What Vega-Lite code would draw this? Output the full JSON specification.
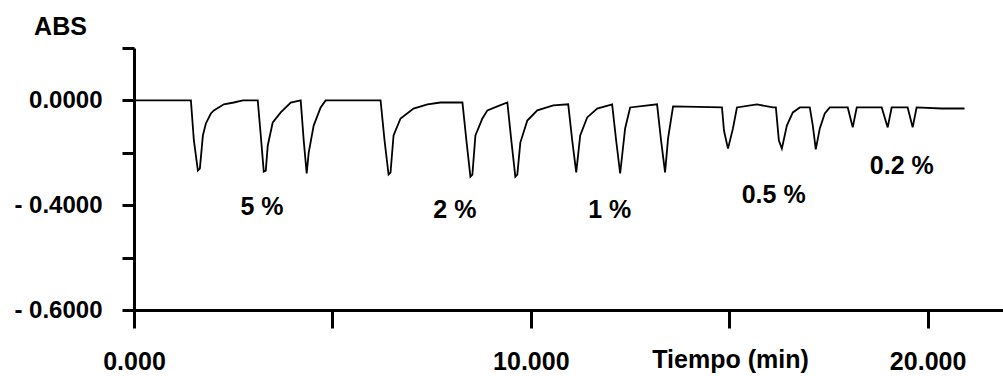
{
  "$schema": "https://vega.github.io/schema/vega-lite/v6.json",
  "width": 869,
  "height": 262,
  "autosize": "none",
  "padding": {"left": 134, "top": 48, "right": 0, "bottom": 66},
  "background": "white",
  "config": {
    "view": {"stroke": null},
    "font": "Liberation Sans",
    "axis": {
      "grid": false,
      "domainColor": "black",
      "domainWidth": 3,
      "tickColor": "black",
      "tickWidth": 3,
      "labelColor": "black",
      "labelFont": "Liberation Sans",
      "labelFontWeight": "bold",
      "titleFont": "Liberation Sans",
      "titleColor": "black",
      "titleFontWeight": "bold"
    }
  },
  "datasets": {
    "trace": [
      {"t": 0, "v": 0},
      {"t": 1.434, "v": 0}, {"t": 1.509, "v": -0.153}, {"t": 1.61, "v": -0.268}, {"t": 1.66, "v": -0.26}, {"t": 1.736, "v": -0.134}, {"t": 1.811, "v": -0.088}, {"t": 1.937, "v": -0.05}, {"t": 2.013, "v": -0.038}, {"t": 2.264, "v": -0.015}, {"t": 2.516, "v": -0.008}, {"t": 2.742, "v": 0}, {"t": 3.119, "v": 0},
      {"t": 3.195, "v": -0.134}, {"t": 3.27, "v": -0.272}, {"t": 3.321, "v": -0.268}, {"t": 3.371, "v": -0.172}, {"t": 3.497, "v": -0.084}, {"t": 3.698, "v": -0.046}, {"t": 3.95, "v": -0.008}, {"t": 4.201, "v": 0},
      {"t": 4.277, "v": -0.153}, {"t": 4.352, "v": -0.279}, {"t": 4.403, "v": -0.199}, {"t": 4.528, "v": -0.096}, {"t": 4.704, "v": -0.027}, {"t": 4.83, "v": 0}, {"t": 6.214, "v": 0},
      {"t": 6.314, "v": -0.153}, {"t": 6.415, "v": -0.283}, {"t": 6.465, "v": -0.275}, {"t": 6.541, "v": -0.134}, {"t": 6.717, "v": -0.069}, {"t": 7.044, "v": -0.031}, {"t": 7.396, "v": -0.015}, {"t": 7.723, "v": -0.008}, {"t": 8.277, "v": -0.008},
      {"t": 8.377, "v": -0.153}, {"t": 8.478, "v": -0.291}, {"t": 8.528, "v": -0.283}, {"t": 8.604, "v": -0.134}, {"t": 8.78, "v": -0.069}, {"t": 8.906, "v": -0.038}, {"t": 9.157, "v": -0.023}, {"t": 9.409, "v": -0.008},
      {"t": 9.509, "v": -0.153}, {"t": 9.61, "v": -0.291}, {"t": 9.66, "v": -0.283}, {"t": 9.736, "v": -0.161}, {"t": 9.912, "v": -0.077}, {"t": 10.164, "v": -0.038}, {"t": 10.566, "v": -0.019}, {"t": 10.943, "v": -0.015},
      {"t": 11.044, "v": -0.153}, {"t": 11.145, "v": -0.275}, {"t": 11.245, "v": -0.134}, {"t": 11.421, "v": -0.065}, {"t": 11.673, "v": -0.031}, {"t": 12.05, "v": -0.015},
      {"t": 12.151, "v": -0.153}, {"t": 12.252, "v": -0.279}, {"t": 12.377, "v": -0.107}, {"t": 12.503, "v": -0.027}, {"t": 13.182, "v": -0.015},
      {"t": 13.283, "v": -0.153}, {"t": 13.384, "v": -0.275}, {"t": 13.459, "v": -0.145}, {"t": 13.585, "v": -0.023}, {"t": 14.818, "v": -0.027},
      {"t": 14.868, "v": -0.115}, {"t": 14.969, "v": -0.184}, {"t": 15.094, "v": -0.107}, {"t": 15.195, "v": -0.027}, {"t": 15.698, "v": -0.015}, {"t": 16.101, "v": -0.027},
      {"t": 16.176, "v": -0.027}, {"t": 16.252, "v": -0.153}, {"t": 16.327, "v": -0.184}, {"t": 16.453, "v": -0.096}, {"t": 16.604, "v": -0.046}, {"t": 16.78, "v": -0.027}, {"t": 17.031, "v": -0.027},
      {"t": 17.107, "v": -0.096}, {"t": 17.182, "v": -0.187}, {"t": 17.283, "v": -0.107}, {"t": 17.409, "v": -0.05}, {"t": 17.535, "v": -0.027}, {"t": 17.987, "v": -0.027},
      {"t": 18.113, "v": -0.103}, {"t": 18.214, "v": -0.027}, {"t": 18.843, "v": -0.027},
      {"t": 18.994, "v": -0.103}, {"t": 19.094, "v": -0.027}, {"t": 19.497, "v": -0.027},
      {"t": 19.623, "v": -0.103}, {"t": 19.723, "v": -0.027}, {"t": 20.352, "v": -0.031}, {"t": 20.931, "v": -0.031}
    ],
    "notes": [
      {"t": 3.224, "v": -0.408, "label": "5 %"},
      {"t": 8.086, "v": -0.419, "label": "2 %"},
      {"t": 11.99, "v": -0.419, "label": "1 %"},
      {"t": 16.12, "v": -0.362, "label": "0.5 %"},
      {"t": 19.35, "v": -0.251, "label": "0.2 %"}
    ]
  },
  "encoding": {
    "x": {
      "field": "t",
      "type": "quantitative",
      "scale": {"domain": [0, 21.9], "nice": false, "zero": false},
      "axis": {
        "values": [0, 5, 10, 15, 20],
        "labelExpr": "datum.value % 10 == 0 ? format(datum.value, '.3f') : ''",
        "labelFontSize": 25,
        "labelBaseline": "alphabetic",
        "tickSize": 18,
        "labelPadding": 41,
        "labelFlush": false,
        "labelOverlap": false,
        "title": "Tiempo (min)",
        "titleFontSize": 25,
        "titleX": 596,
        "titleY": 57,
        "titleAlign": "center",
        "titleBaseline": "alphabetic"
      }
    },
    "y": {
      "field": "v",
      "type": "quantitative",
      "scale": {"domain": [-0.8, 0.2], "nice": false, "zero": false},
      "axis": {
        "values": [0.2, 0, -0.2, -0.4, -0.6, -0.8],
        "labelExpr": "abs(datum.value) < 1e-9 ? '0.0000' : abs(datum.value + 0.4) < 1e-9 ? '- 0.4000' : abs(datum.value + 0.8) < 1e-9 ? '- 0.6000' : ''",
        "labelFontSize": 24,
        "tickSize": 12,
        "labelPadding": 20,
        "labelOverlap": false,
        "title": "ABS",
        "titleFontSize": 25,
        "titleAngle": 0,
        "titleX": -74,
        "titleY": -14,
        "titleAlign": "center",
        "titleBaseline": "alphabetic"
      }
    }
  },
  "layer": [
    {
      "data": {"name": "trace"},
      "mark": {"type": "line", "color": "black", "strokeWidth": 1.8, "interpolate": "linear"}
    },
    {
      "data": {"name": "notes"},
      "mark": {"type": "text", "fontSize": 25, "fontWeight": "bold", "color": "black", "align": "center", "baseline": "middle", "font": "Liberation Sans"},
      "encoding": {"text": {"field": "label", "type": "nominal"}}
    }
  ]
}
